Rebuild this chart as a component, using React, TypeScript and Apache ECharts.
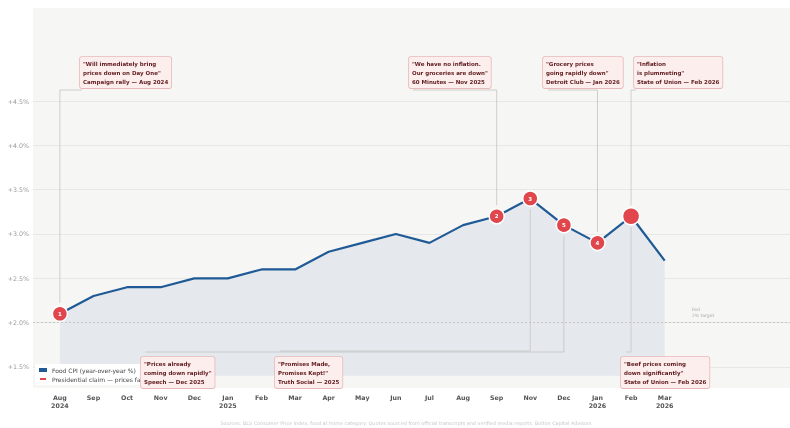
import React, { useEffect, useRef } from 'react';
import * as echarts from 'echarts';

const months = ['Aug\n2024', 'Sep', 'Oct', 'Nov', 'Dec', 'Jan\n2025', 'Feb', 'Mar', 'Apr', 'May', 'Jun', 'Jul', 'Aug', 'Sep', 'Nov', 'Dec', 'Jan\n2026', 'Feb', 'Mar\n2026'];
const foodCpi = [2.1, 2.3, 2.4, 2.4, 2.5, 2.5, 2.6, 2.6, 2.8, 2.9, 3.0, 2.9, 3.1, 3.2, 3.4, 3.1, 2.9, 3.2, 2.7];
const yTicks = [1.5, 2.0, 2.5, 3.0, 3.5, 4.0, 4.5];
const claimIndex = [0, 13, 14, 16, 15, 17];
const claimLabels = ['1', '2', '3', '4', '5', ''];
const fedTarget = 2.0;

const quotes = [
  '"Will immediately bring\nprices down on Day One"\nCampaign rally — Aug 2024',
  '"We have no inflation.\nOur groceries are down"\n60 Minutes — Nov 2025',
  '"Grocery prices\ngoing rapidly down"\nDetroit Club — Jan 2026',
  '"Inflation\nis plummeting"\nState of Union — Feb 2026',
  '"Prices already\ncoming down rapidly"\nSpeech — Dec 2025',
  '"Promises Made,\nPromises Kept!"\nTruth Social — 2025',
  '"Beef prices coming\ndown significantly"\nState of Union — Feb 2026',
];
const quotePoint = [0, 13, 16, 17, 15, 14, 17];

// layout of annotation boxes: box left/top, elbow x (at box), connector y
const boxLayout = [
  { x: 80, y: 57, ex: 82, cy: 90, top: true },
  { x: 409, y: 57, ex: 413, cy: 90, top: true },
  { x: 543, y: 57, ex: 548, cy: 90, top: true },
  { x: 634, y: 57, ex: 636, cy: 90, top: true },
  { x: 141, y: 357, ex: 145, cy: 352, top: false },
  { x: 275, y: 357, ex: 280, cy: 351, top: false },
  { x: 621, y: 357, ex: 626, cy: 352, top: false },
];

const BLUE = '#1f5a96';
const RED = '#e0464b';

export default function App() {
  const ref = useRef<HTMLDivElement>(null);
  useEffect(() => {
    if (!ref.current) return;
    const chart = echarts.init(ref.current, null, { renderer: 'svg' });
    const idx = months.map((_, i) => i);
    chart.setOption({
      animation: false,
      textStyle: { fontFamily: 'DejaVu Sans' },
      grid: { left: 33, right: 0, top: 8, bottom: 40, show: true, backgroundColor: '#f6f6f4', borderWidth: 0 },
      legend: {
        left: 35, top: 364, orient: 'vertical', backgroundColor: '#ffffff', padding: [3, 4, 3, 3],
        itemGap: 3, itemWidth: 8, itemHeight: 4, borderRadius: 2,
        textStyle: { fontSize: 6, color: '#444', fontFamily: 'DejaVu Sans' },
        data: [
          { name: 'Food CPI (year-over-year %)', icon: 'rect' },
          { name: 'Presidential claim — prices falling', icon: 'rect' },
        ],
      },
      xAxis: {
        type: 'value', min: -0.8, max: 21.73,
        axisLine: { show: false },
        axisTick: { show: false, customValues: idx },
        splitLine: { show: false },
        axisLabel: {
          customValues: idx, formatter: (v: number) => months[Math.round(v)] ?? '',
          fontSize: 6.3, fontWeight: 'bold', color: '#555', lineHeight: 8, margin: 5,
        },
      },
      yAxis: {
        type: 'value', min: 1.263, max: 5.549,
        axisLine: { show: false },
        axisTick: { show: false, customValues: yTicks },
        axisLabel: {
          customValues: yTicks, formatter: (v: number) => '+' + v.toFixed(1) + '%',
          fontSize: 6.3, color: '#999', margin: 4,
        },
        splitLine: { show: true, lineStyle: { color: '#e3e3e1', width: 0.8 } },
      },
      series: [
        {
          name: 'Food CPI (year-over-year %)', type: 'line',
          data: idx.map((i) => [i, foodCpi[i]]),
          symbol: 'none', z: 2,
          lineStyle: { color: BLUE, width: 2.2 },
          itemStyle: { color: BLUE },
          areaStyle: { color: '#e5e9ed', opacity: 1, origin: 1.4 },
          markLine: {
            silent: true, symbol: 'none', label: { show: false },
            lineStyle: { color: '#bcbcbc', type: [2, 2], width: 0.8 },
            data: [{ yAxis: fedTarget }],
          },
        },
        {
          name: 'Presidential claim — prices falling', type: 'scatter', z: 5,
          data: claimIndex.map((ix) => [ix, foodCpi[ix]]),
          symbolSize: (_v: any, p: any) => (claimLabels[p.dataIndex] ? 15 : 17),
          itemStyle: { color: RED, borderColor: '#fff', borderWidth: 1.5, opacity: 1 },
          label: {
            show: true, position: 'inside', formatter: (p: any) => claimLabels[p.dataIndex],
            color: '#fff', fontSize: 5.5, fontWeight: 'bold',
          },
        },
      ],
    });

    const elements: any[] = [];
    quotes.forEach((q, k) => {
      const L = boxLayout[k];
      const pi = quotePoint[k];
      const [px, py] = chart.convertToPixel({ gridIndex: 0 }, [pi, foodCpi[pi]]) as number[];
      const endY = L.top ? py - 11 : py + 11;
      elements.push({
        type: 'polyline', z: 50, silent: true,
        shape: { points: [[L.ex, L.cy], [px, L.cy], [px, endY]] },
        style: { stroke: '#c4c4c4', lineWidth: 0.8, fill: null },
      });
      elements.push({
        type: 'text', z: 60, x: L.x, y: L.y, silent: true,
        style: {
          text: q, fontSize: 5.5, fontWeight: 'bold', fontFamily: 'DejaVu Sans', fill: '#5e1a1c',
          lineHeight: 8.7, backgroundColor: '#fdeeee', borderColor: '#e8b8b8', borderWidth: 0.8,
          borderRadius: 2, padding: [3, 3, 2, 3],
        },
      });
    });
    elements.push({
      type: 'text', x: 692, y: 307, z: 20, silent: true,
      style: { text: 'Fed\n2% target', fontSize: 4.5, fill: '#aaa', lineHeight: 5.5, fontFamily: 'DejaVu Sans' },
    });
    elements.push({
      type: 'text', x: 406, y: 423, z: 20, silent: true,
      style: {
        text: 'Sources: BLS Consumer Price Index, food at home category. Quotes sourced from official transcripts and verified media reports. Bolton Capital Advisors',
        fontSize: 4.9, fill: '#c8c8c8', align: 'center', verticalAlign: 'middle', fontFamily: 'DejaVu Sans',
      },
    });
    chart.setOption({ graphic: { elements } });
    return () => chart.dispose();
  }, []);
  return <div ref={ref} style={{ position: 'fixed', left: 0, top: 0, width: 790, height: 428 }} />;
}
